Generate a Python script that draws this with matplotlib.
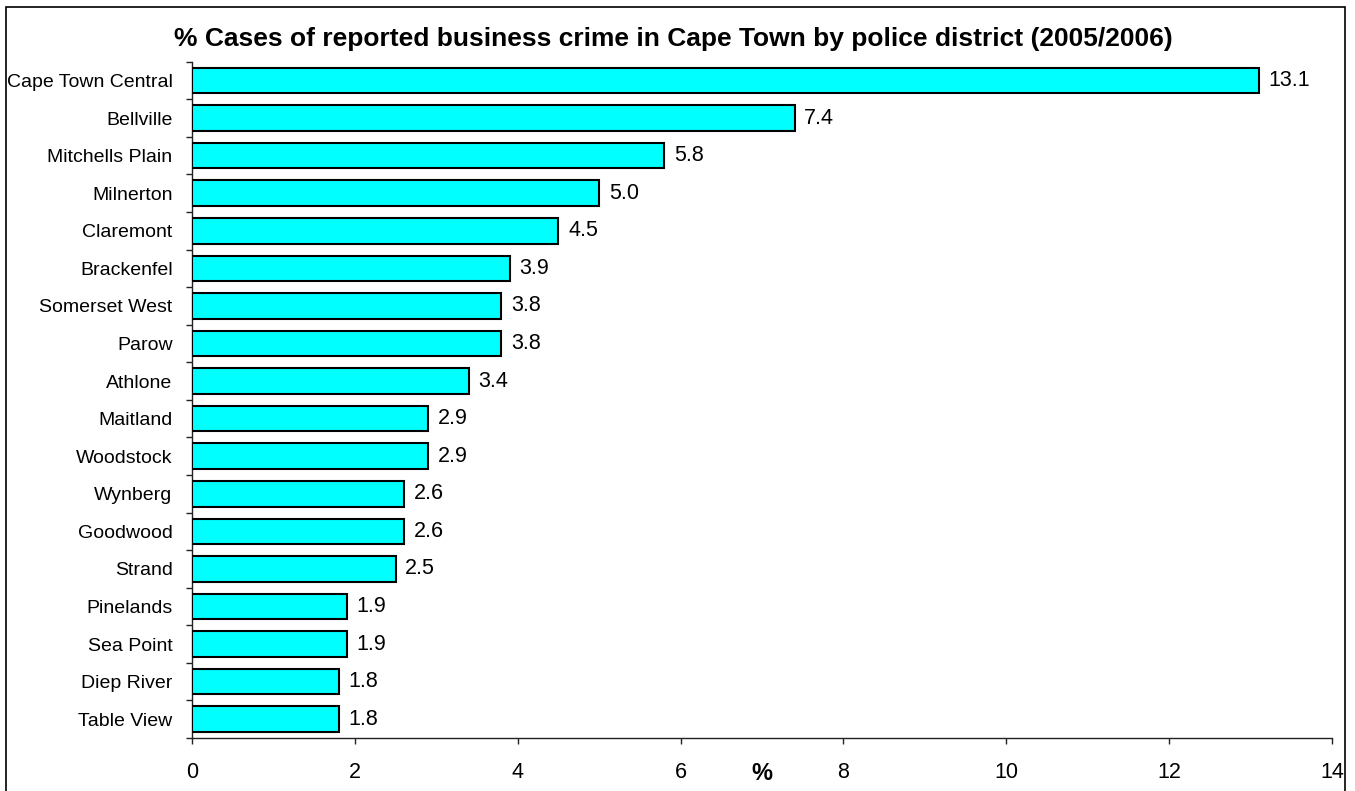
import numpy as np
import matplotlib.pyplot as plt
from matplotlib.patches import Rectangle

plt.rcParams['font.family'] = ['Liberation Sans', 'DejaVu Sans']

# police districts, top to bottom, with share of reported business crime (%)
districts = [
    "Cape Town Central", "Bellville", "Mitchells Plain", "Milnerton",
    "Claremont", "Brackenfel", "Somerset West", "Parow", "Athlone",
    "Maitland", "Woodstock", "Wynberg", "Goodwood", "Strand",
    "Pinelands", "Sea Point", "Diep River", "Table View",
]
share = [13.1, 7.4, 5.8, 5.0, 4.5, 3.9, 3.8, 3.8, 3.4,
         2.9, 2.9, 2.6, 2.6, 2.5, 1.9, 1.9, 1.8, 1.8]
x_ticks = [0, 2, 4, 6, 8, 10, 12, 14]

fig = plt.figure(figsize=(13.55, 7.91), dpi=100)
ax = fig.add_axes([0.1417, 0.067, 0.8413, 0.855])

y = np.arange(len(districts))
ax.barh(y, share, height=0.68, color="#00FFFF", edgecolor="black",
        linewidth=1.5, zorder=3)

for yi, v in zip(y, share):
    ax.text(v + 0.12, yi, f"{v:.1f}", va="center", ha="left", fontsize=15.5)

ax.set_ylim(len(districts) - 0.5, -0.5)
ax.set_xlim(0, 14)
ax.set_xticks(x_ticks)
ax.set_xticklabels([str(t) for t in x_ticks], fontsize=15.5)

# category labels centred on bars, ticks drawn between categories
ax.set_yticks(y)
ax.set_yticklabels(districts, fontsize=14)
ax.tick_params(axis="y", which="major", length=0, pad=14)
ax.set_yticks(np.arange(-0.5, len(districts), 1.0), minor=True)
ax.tick_params(axis="y", which="minor", length=4, width=1, color="#222222")
ax.tick_params(axis="x", length=4, width=1, color="#222222", pad=13)

for side in ("top", "right"):
    ax.spines[side].set_visible(False)
for side in ("left", "bottom"):
    ax.spines[side].set_linewidth(1)
    ax.spines[side].set_color("#222222")

ax.set_xlabel("%", fontsize=17, fontweight="bold")
ax.xaxis.set_label_coords(0.5, -0.036)

fig.text(0.497, 0.951,
         "% Cases of reported business crime in Cape Town by police district (2005/2006)",
         ha="center", va="center", fontsize=19, fontweight="bold")

# outer frame round the chart, open at the bottom edge
fig.patches.append(Rectangle((6 / 1355, -0.05), 1339 / 1355, 1.05 - 7 / 791,
                             transform=fig.transFigure, fill=False,
                             edgecolor="black", linewidth=1.2, clip_on=False))

fig.savefig("out.png", dpi=100)
